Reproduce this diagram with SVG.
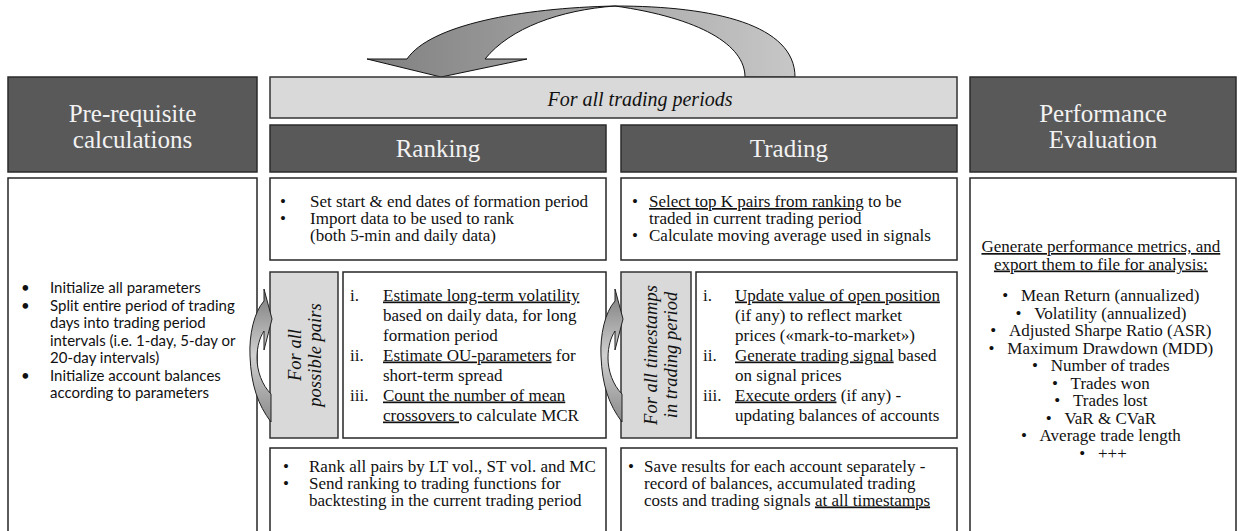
<svg xmlns="http://www.w3.org/2000/svg" width="1239" height="531" viewBox="0 0 1239 531">
<defs>
<style>
.hdr{fill:#595959;stroke:#2b2b2b;stroke-width:1.5}
.bar{fill:#d9d9d9;stroke:#333;stroke-width:1.5}
.box{fill:#fff;stroke:#262626;stroke-width:1.5}
.ht{font-family:"Liberation Serif",serif;font-size:25px;fill:#f2f2f2;text-anchor:middle}
.t{font-family:"Liberation Serif",serif;font-size:17px;fill:#111}
.s{font-family:Lato,"Liberation Sans",sans-serif;font-size:15px;fill:#111}
.it{font-style:italic}
.c{text-anchor:middle}
.u{text-decoration:underline}
.loop{stroke:#222;stroke-width:1}
</style>
<linearGradient id="gBig" gradientUnits="userSpaceOnUse" x1="367" y1="0" x2="800" y2="0">
<stop offset="0" stop-color="#808080"/>
<stop offset="1" stop-color="#c8c8c8"/>
</linearGradient>
<linearGradient id="gLoop" x1="0" y1="0" x2="0" y2="1">
<stop offset="0" stop-color="#7a7a7a"/>
<stop offset="0.5" stop-color="#d0d0d0"/>
<stop offset="1" stop-color="#8a8a8a"/>
</linearGradient>
</defs>

<g id="connectors">
<path d="M441,77 L527,59 L485,59 C510,28 560,10 615,6 C520,8 430,25 407,59 L367,59 Z" fill="url(#gBig)" stroke="#111" stroke-width="1"/>
<path d="M615,6 C715,6 795,25 795,77 L745,77 C745,45 700,18 615,6 Z" fill="url(#gBig)" stroke="#111" stroke-width="1"/>
</g>

<g id="prereq-header">
<rect class="hdr" x="8" y="77" width="249" height="95"/>
<text class="ht" x="132.5" y="122">Pre-requisite</text>
<text class="ht" x="132.5" y="148">calculations</text>
</g>

<g id="all-periods-bar">
<rect class="bar" x="270" y="77" width="687" height="41"/>
<text class="t it c" x="640" y="106" style="font-size:20px">For all trading periods</text>
</g>

<g id="ranking-header">
<rect class="hdr" x="270" y="125" width="336" height="47"/>
<text class="ht" x="438" y="157">Ranking</text>
</g>

<g id="trading-header">
<rect class="hdr" x="621" y="125" width="336" height="47"/>
<text class="ht" x="789" y="157">Trading</text>
</g>

<g id="perf-header">
<rect class="hdr" x="970" y="77" width="266" height="95"/>
<text class="ht" x="1103" y="122">Performance</text>
<text class="ht" x="1103" y="148">Evaluation</text>
</g>

<g id="prereq-box">
<rect class="box" x="8" y="178" width="249" height="370"/>
<text class="s">
<tspan x="21" y="293">•</tspan><tspan x="50" y="293">Initialize all parameters</tspan>
<tspan x="21" y="310.5">•</tspan><tspan x="50" y="310.5">Split entire period of trading</tspan>
<tspan x="50" y="328">days into trading period</tspan>
<tspan x="50" y="345.5">intervals (i.e. 1-day, 5-day or</tspan>
<tspan x="50" y="363">20-day intervals)</tspan>
<tspan x="21" y="380.5">•</tspan><tspan x="50" y="380.5">Initialize account balances</tspan>
<tspan x="50" y="398">according to parameters</tspan>
</text>
</g>

<g id="ranking-top">
<rect class="box" x="270" y="178" width="336" height="82"/>
<text class="t">
<tspan x="280" y="207">•</tspan><tspan x="310" y="207">Set start &amp; end dates of formation period</tspan>
<tspan x="280" y="224">•</tspan><tspan x="310" y="224">Import data to be used to rank</tspan>
<tspan x="310" y="241">(both 5-min and daily data)</tspan>
</text>
</g>

<g id="trading-top">
<rect class="box" x="621" y="178" width="336" height="82"/>
<text class="t">
<tspan x="632" y="207">•</tspan><tspan x="649" y="207" class="u">Select top K pairs from ranking</tspan><tspan> to be</tspan>
<tspan x="649" y="224">traded in current trading period</tspan>
<tspan x="632" y="241">•</tspan><tspan x="649" y="241">Calculate moving average used in signals</tspan>
</text>
</g>

<g id="pairs-loop">
<rect x="270" y="272" width="68" height="166" fill="#d9d9d9" stroke="#333" stroke-width="1.5"/>
<text class="t it c" transform="translate(304,355) rotate(-90)" style="font-size:18.5px"><tspan x="0" y="-3">For all</tspan><tspan x="0" y="17">possible pairs</tspan></text>
<path class="loop" fill="url(#gLoop)" d="M272,319 L264,289 L264,301 C254,312 249,335 250,356 C251,385 258,405 271,422 L271,394 C262,385 257,371 257,358 C257,346 260,337 264,331 L264,350 Z"/>
</g>

<g id="ranking-mid">
<rect class="box" x="343" y="272" width="263" height="166"/>
<text class="t">
<tspan x="350" y="300.5">i.</tspan><tspan x="383" y="300.5" class="u">Estimate long-term volatility</tspan>
<tspan x="383" y="320.5">based on daily data, for long</tspan>
<tspan x="383" y="340.5">formation period</tspan>
<tspan x="350" y="360.5">ii.</tspan><tspan x="383" y="360.5" class="u">Estimate OU-parameters</tspan><tspan> for</tspan>
<tspan x="383" y="380.5">short-term spread</tspan>
<tspan x="350" y="400.5">iii.</tspan><tspan x="383" y="400.5" class="u">Count the number of mean</tspan>
<tspan x="383" y="420.5" class="u">crossovers </tspan><tspan>to calculate MCR</tspan>
</text>
</g>

<g id="timestamps-loop">
<rect x="621" y="272" width="70" height="166" fill="#d9d9d9" stroke="#333" stroke-width="1.5"/>
<text class="t it c" transform="translate(656,355) rotate(-90)" style="font-size:18.5px"><tspan x="0" y="1">For all timestamps</tspan><tspan x="0" y="21">in trading period</tspan></text>
<path class="loop" fill="url(#gLoop)" d="M623,319 L615,289 L615,301 C605,312 600,335 601,356 C602,385 609,405 622,422 L622,394 C613,385 608,371 608,358 C608,346 611,337 615,331 L615,350 Z"/>
</g>

<g id="trading-mid">
<rect class="box" x="696" y="272" width="261" height="166"/>
<text class="t">
<tspan x="703" y="300.5">i.</tspan><tspan x="735" y="300.5" class="u">Update value of open position</tspan>
<tspan x="735" y="320.5">(if any) to reflect market</tspan>
<tspan x="735" y="340.5">prices («mark-to-market»)</tspan>
<tspan x="703" y="360.5">ii.</tspan><tspan x="735" y="360.5" class="u">Generate trading signal</tspan><tspan> based</tspan>
<tspan x="735" y="380.5">on signal prices</tspan>
<tspan x="703" y="400.5">iii.</tspan><tspan x="735" y="400.5" class="u">Execute orders</tspan><tspan> (if any) -</tspan>
<tspan x="735" y="420.5">updating balances of accounts</tspan>
</text>
</g>

<g id="ranking-bottom">
<rect class="box" x="270" y="448" width="336" height="100"/>
<text class="t">
<tspan x="283" y="471.5">•</tspan><tspan x="309" y="471.5">Rank all pairs by LT vol., ST vol. and MC</tspan>
<tspan x="283" y="488.5">•</tspan><tspan x="309" y="488.5">Send ranking to trading functions for</tspan>
<tspan x="309" y="505.5">backtesting in the current trading period</tspan>
</text>
</g>

<g id="trading-bottom">
<rect class="box" x="621" y="448" width="336" height="100"/>
<text class="t">
<tspan x="628" y="471.5">•</tspan><tspan x="644" y="471.5">Save results for each account separately -</tspan>
<tspan x="644" y="488.5">record of balances, accumulated trading</tspan>
<tspan x="644" y="505.5">costs and trading signals </tspan><tspan class="u">at all timestamps</tspan>
</text>
</g>

<g id="perf-box">
<rect class="box" x="970" y="178" width="266" height="370"/>
<text class="t c">
<tspan x="1103" y="252" class="u">Generate performance metrics, and</tspan>
<tspan x="1103" y="269.5" class="u">export them to file for analysis:</tspan>
<tspan x="1103" y="301">•&#160;&#160;&#160;Mean Return (annualized)</tspan>
<tspan x="1103" y="318.5">•&#160;&#160;&#160;Volatility (annualized)</tspan>
<tspan x="1103" y="336">•&#160;&#160;&#160;Adjusted Sharpe Ratio (ASR)</tspan>
<tspan x="1103" y="353.5">•&#160;&#160;&#160;Maximum Drawdown (MDD)</tspan>
<tspan x="1103" y="371">•&#160;&#160;&#160;Number of trades</tspan>
<tspan x="1103" y="388.5">•&#160;&#160;&#160;Trades won</tspan>
<tspan x="1103" y="406">•&#160;&#160;&#160;Trades lost</tspan>
<tspan x="1103" y="423.5">•&#160;&#160;&#160;VaR &amp; CVaR</tspan>
<tspan x="1103" y="441">•&#160;&#160;&#160;Average trade length</tspan>
<tspan x="1103" y="458.5">•&#160;&#160;&#160;+++</tspan>
</text>
</g>
</svg>
